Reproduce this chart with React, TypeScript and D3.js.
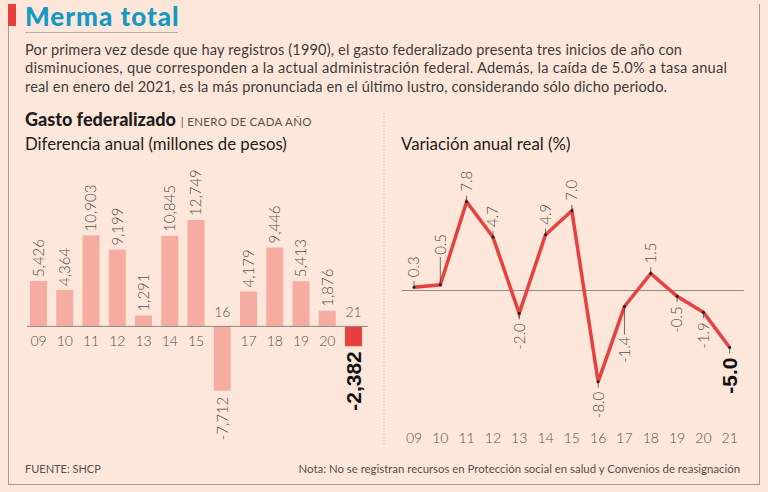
import React from "react";
import * as d3 from "d3";

const years = ["09", "10", "11", "12", "13", "14", "15", "16", "17", "18", "19", "20", "21"];
const diffValues = [5426, 4364, 10903, 9199, 1291, 10845, 12749, -7712, 4179, 9446, 5413, 1876, -2382];
const diffLabels = ["5,426", "4,364", "10,903", "9,199", "1,291", "10,845", "12,749", "-7,712", "4,179", "9,446", "5,413", "1,876", "-2,382"];
const variation = [0.3, 0.5, 7.8, 4.7, -2.0, 4.9, 7.0, -8.0, -1.4, 1.5, -0.5, -1.9, -5.0];
const variationLabels = ["0.3", "0.5", "7.8", "4.7", "-2.0", "4.9", "7.0", "-8.0", "-1.4", "1.5", "-0.5", "-1.9", "-5.0"];
const highlightYear = "21";
const longLeaderYears = ["10", "17"];

const paragraph = [
  "Por primera vez desde que hay registros (1990), el gasto federalizado presenta tres inicios de año con",
  "disminuciones, que corresponden a la actual administración federal. Además, la caída de 5.0% a tasa anual",
  "real en enero del 2021, es la más pronunciada en el último lustro, considerando sólo dicho periodo.",
];
const paragraphWidths = [657, 702, 642];

const W = 768;
const H = 492;
const BG = "#fde7da";
const BAR = "#f6aca1";
const RED = "#e8403f";
const TEXT = "#3f3b3b";
const LABEL = "#555050";
const FONT = "Lato, 'Open Sans', sans-serif";

export default function App() {
  // Bar chart scales
  const xb = d3.scalePoint<string>().domain(years).range([38.5, 353.5]);
  const yb = d3.scaleLinear().domain([-7712, 12749]).range([390.7, 220]);
  const bw = 17;
  const zeroB = yb(0);

  // Line chart scales
  const xl = d3.scalePoint<string>().domain(years).range([414, 729.7]);
  const yl = d3.scaleLinear().domain([-8, 7.8]).range([381.7, 201.7]);
  const zeroL = yl(0);
  const lineGen = d3
    .line<number>()
    .x((_, i) => xl(years[i]) as number)
    .y((d) => yl(d));

  return (
    <div style={{ position: "absolute", left: 0, top: 0, width: W, height: H }}>
      <svg width={W} height={H} viewBox={`0 0 ${W} ${H}`} style={{ display: "block" }}>
        <rect x={0} y={0} width={W} height={H} fill={BG} />
        {/* frame */}
        <rect x={8} y={4} width={8} height={22} fill={RED} />
        <line x1={8.5} y1={26} x2={8.5} y2={484} stroke="#a59d97" strokeWidth={1} />
        <line x1={8} y1={484.5} x2={760} y2={484.5} stroke="#a59d97" strokeWidth={1} />
        <line x1={759.5} y1={4} x2={759.5} y2={485} stroke="#a59d97" strokeWidth={1} />

        {/* title */}
        <text x={25} y={26} fontFamily={FONT} fontWeight={900} fontSize={26} letterSpacing={1} fill="#1598c4">
          Merma total
        </text>
        <line x1={25} y1={32.5} x2={178} y2={32.5} stroke="#b7b2ae" strokeWidth={1} />

        {paragraph.map((t, i) => (
          <text
            key={i}
            x={25}
            y={54.5 + i * 18.5}
            fontFamily={FONT}
            fontSize={14.6}
            textLength={paragraphWidths[i]}
            lengthAdjust="spacing"
            fill={TEXT}
          >
            {t}
          </text>
        ))}

        {/* left header */}
        <text x={25} y={126} fontFamily={FONT} fill="#1f1d1d">
          <tspan fontWeight={900} fontSize={18}>Gasto federalizado</tspan>
          <tspan fontSize={11.5} fill={LABEL} dx={5} letterSpacing={0.3}>| ENERO DE CADA AÑO</tspan>
        </text>
        <text x={25} y={150} fontFamily={FONT} fontSize={16.8} fill="#1f1d1d">
          Diferencia anual (millones de pesos)
        </text>

        {/* bars */}
        {diffValues.map((v, i) => {
          const yr = years[i];
          const cx = xb(yr) as number;
          const top = v >= 0 ? yb(v) : zeroB;
          const h = Math.abs(yb(v) - zeroB);
          const hi = yr === highlightYear;
          return <rect key={yr} x={cx - bw / 2} y={top} width={bw} height={h} fill={hi ? RED : BAR} />;
        })}
        <line x1={27} y1={zeroB} x2={368} y2={zeroB} stroke="#8d8782" strokeWidth={1} />
        {diffValues.map((v, i) => {
          const yr = years[i];
          const cx = xb(yr) as number;
          const hi = yr === highlightYear;
          if (v >= 0) {
            return (
              <text
                key={"l" + yr}
                transform={`translate(${cx},${yb(v) - 4}) rotate(-90)`}
                dy="0.36em"
                textAnchor="start"
                fontFamily={FONT}
                fontWeight={300}
                fontSize={15}
                fill={LABEL}
              >
                {diffLabels[i]}
              </text>
            );
          }
          return (
            <text
              key={"l" + yr}
              transform={`translate(${cx},${yb(v) + (hi ? 5 : 6)}) rotate(-90)`}
              dy="0.36em"
              textAnchor="end"
              fontFamily={hi ? "Liberation Sans, Arial, sans-serif" : FONT}
              fontWeight={hi ? 700 : 300}
              fontSize={hi ? 21 : 15}
              fill={hi ? "#111" : LABEL}
            >
              {diffLabels[i]}
            </text>
          );
        })}
        {diffValues.map((v, i) => {
          const yr = years[i];
          const cx = xb(yr) as number;
          return (
            <text
              key={"y" + yr}
              x={cx}
              y={v >= 0 ? zeroB + 20 : zeroB - 9}
              textAnchor="middle"
              fontFamily={FONT}
              fontWeight={300}
              fontSize={14}
              fill={LABEL}
            >
              {yr}
            </text>
          );
        })}

        {/* separator */}
        <line x1={384} y1={113} x2={384} y2={445} stroke="#c7b6ab" strokeWidth={1} strokeDasharray="1 2" />

        {/* right chart */}
        <text x={401} y={150} fontFamily={FONT} fontSize={16.8} fill="#1f1d1d">
          Variación anual real (%)
        </text>
        <line x1={402} y1={zeroL} x2={744} y2={zeroL} stroke="#8d8782" strokeWidth={1} />
        <path d={lineGen(variation) || ""} fill="none" stroke={RED} strokeWidth={3.5} strokeLinejoin="miter" />
        {variation.map((v, i) => {
          const yr = years[i];
          const cx = xl(yr) as number;
          const cy = yl(v);
          const hi = yr === highlightYear;
          const long = longLeaderYears.includes(yr);
          const gap = long ? 30 : 10;
          const tick = long ? 28 : 6;
          const dir = v >= 0 ? -1 : 1;
          return (
            <g key={"p" + yr}>
              <line x1={cx} y1={cy} x2={cx} y2={cy + dir * tick} stroke="#4a4545" strokeWidth={0.8} />
              <circle cx={cx} cy={cy} r={1.5} fill="#222" />
              <text
                transform={`translate(${cx},${cy + dir * gap}) rotate(-90)`}
                dy="0.36em"
                textAnchor={v >= 0 ? "start" : "end"}
                fontFamily={hi ? "Liberation Sans, Arial, sans-serif" : FONT}
                fontWeight={hi ? 700 : 300}
                fontSize={hi ? 21 : 15}
                fill={hi ? "#111" : LABEL}
              >
                {variationLabels[i]}
              </text>
            </g>
          );
        })}
        {years.map((yr) => (
          <text
            key={"ly" + yr}
            x={xl(yr) as number}
            y={443}
            textAnchor="middle"
            fontFamily={FONT}
            fontWeight={300}
            fontSize={14}
            fill={LABEL}
          >
            {yr}
          </text>
        ))}

        {/* footer */}
        <text x={25} y={473} fontFamily={FONT} fontSize={11} fill={LABEL}>
          FUENTE: SHCP
        </text>
        <text x={740} y={473} textAnchor="end" fontFamily={FONT} fontSize={11.4} fill={LABEL}>
          Nota: No se registran recursos en Protección social en salud y Convenios de reasignación
        </text>
      </svg>
    </div>
  );
}
